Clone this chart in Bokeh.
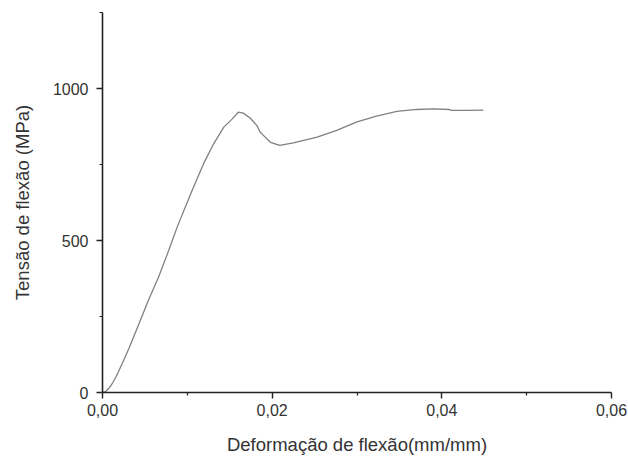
from bokeh.plotting import figure
from bokeh.models import Range1d, FixedTicker
from bokeh.embed import file_html
from bokeh.resources import INLINE

# Data
strain = [0.0, 0.0004, 0.0008, 0.0012, 0.0016, 0.0023, 0.0031, 0.0043, 0.0054,
          0.0066, 0.0078, 0.0088, 0.0104, 0.0119, 0.0131, 0.0143, 0.0153,
          0.0160, 0.0166, 0.0174, 0.0182, 0.0186, 0.0190, 0.0198, 0.0209,
          0.0225, 0.0253, 0.0276, 0.0300, 0.0323, 0.0347, 0.0370, 0.0390,
          0.0409, 0.0411, 0.0429, 0.0449]
stress = [0, 4, 15, 32, 52, 94, 144, 226, 303,
          379, 467, 544, 654, 752, 818, 873, 900,
          922, 919, 903, 878, 856, 845, 823, 813,
          821, 840, 862, 890, 909, 925, 931, 933,
          931, 928, 928, 929]

x_ticks = [0.0, 0.02, 0.04, 0.06]
x_tick_labels = ["0,00", "0,02", "0,04", "0,06"]
x_minor = [0.01, 0.03, 0.05]
y_ticks = [0, 500, 1000]
y_tick_labels = ["0", "500", "1000"]
y_minor = [250, 750, 1250]

p = figure(width=628, height=457, output_backend="svg", toolbar_location=None,
           x_range=Range1d(0, 0.06), y_range=Range1d(0, 1250),
           x_axis_label="Deformação de flexão(mm/mm)",
           y_axis_label="Tensão de flexão (MPa)",
           min_border_left=102, min_border_right=17, min_border_top=12,
           min_border_bottom=65)

p.line(strain, stress, line_color="#808080", line_width=1.3)

p.grid.visible = False
p.outline_line_color = None

p.xaxis.ticker = FixedTicker(ticks=x_ticks, minor_ticks=x_minor)
p.yaxis.ticker = FixedTicker(ticks=y_ticks, minor_ticks=y_minor)
p.xaxis.major_label_overrides = dict(zip(x_ticks, x_tick_labels))
p.yaxis.major_label_overrides = dict(zip(y_ticks, y_tick_labels))

for ax in (p.xaxis, p.yaxis):
    ax.axis_line_color = "#222222"
    ax.axis_line_width = 1.6
    ax.major_tick_line_color = "#222222"
    ax.minor_tick_line_color = "#222222"
    ax.major_tick_line_width = 1.4
    ax.minor_tick_line_width = 1.2
    ax.major_tick_out = 6
    ax.major_tick_in = 0
    ax.minor_tick_out = 3
    ax.minor_tick_in = 0
    ax.major_label_text_font = "Liberation Sans"
    ax.major_label_text_font_size = "16px"
    ax.major_label_text_color = "#333333"
    ax.axis_label_text_font = "Liberation Sans"
    ax.axis_label_text_font_size = "18.5px"
    ax.axis_label_text_font_style = "normal"
    ax.axis_label_text_color = "#333333"

p.xaxis.major_label_standoff = 5
p.xaxis.axis_label_standoff = 15
p.yaxis.major_label_standoff = 8
p.yaxis.axis_label_standoff = 17

open("out.html", "w").write(file_html(p, INLINE))
